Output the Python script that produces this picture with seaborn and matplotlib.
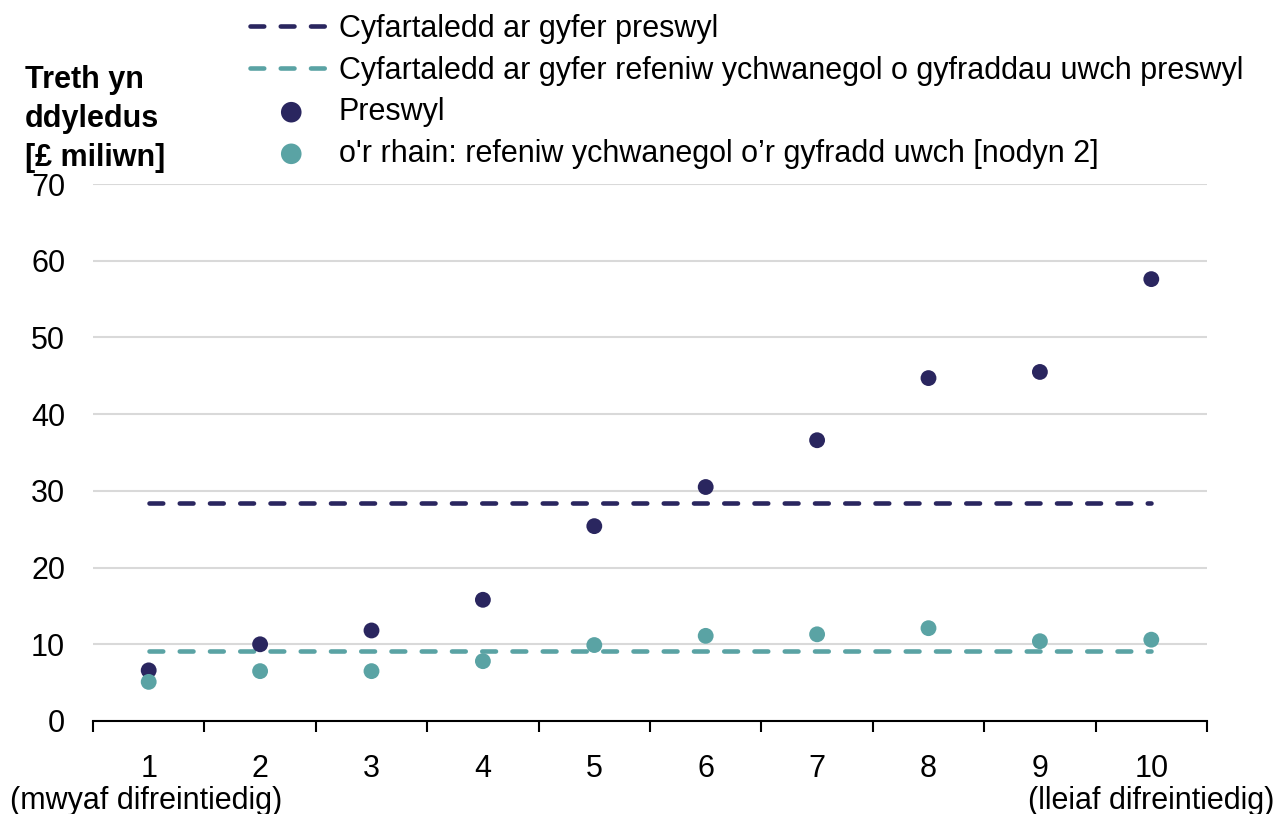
import seaborn as sns
import matplotlib.pyplot as plt
from matplotlib.ticker import FixedLocator

# Decile of deprivation (1 = most deprived, 10 = least deprived)
deciles = [1, 2, 3, 4, 5, 6, 7, 8, 9, 10]
tick_labels = ["1", "2", "3", "4", "5", "6", "7", "8", "9", "10"]
end_label_left = "(mwyaf difreintiedig)"
end_label_right = "(lleiaf difreintiedig)"

# Tax due, £ million
preswyl = [6.6, 10.0, 11.8, 15.8, 25.4, 30.5, 36.6, 44.7, 45.5, 57.6]
higher_rate = [5.1, 6.5, 6.5, 7.8, 9.9, 11.1, 11.3, 12.1, 10.4, 10.6]

avg_preswyl = 28.4
avg_higher = 9.1

label_avg_preswyl = "Cyfartaledd ar gyfer preswyl"
label_avg_higher = "Cyfartaledd ar gyfer refeniw ychwanegol o gyfraddau uwch preswyl"
label_preswyl = "Preswyl"
label_higher = "o'r rhain: refeniw ychwanegol o\u2019r gyfradd uwch [nodyn 2]"

navy = "#2a265f"
teal = "#5aa3a4"

sns.set_theme(style="white")
plt.rcParams['font.family'] = ['Liberation Sans', 'DejaVu Sans']
plt.rcParams['text.color'] = 'black'
fs = 22

fig = plt.figure(figsize=(12.8, 8.14), dpi=100)
ax = fig.add_axes([93 / 1280, 1 - 721 / 814, (1207 - 93) / 1280, (721 - 184) / 814])

dash = (0, (3.0, 3.6))
sns.lineplot(x=deciles, y=[avg_preswyl] * len(deciles), color=navy, lw=3.3,
             linestyle=dash, dash_capstyle='round', ax=ax, label=label_avg_preswyl, zorder=2)
sns.lineplot(x=deciles, y=[avg_higher] * len(deciles), color=teal, lw=3.3,
             linestyle=dash, dash_capstyle='round', ax=ax, label=label_avg_higher, zorder=2)
sns.scatterplot(x=deciles, y=preswyl, color=navy, s=130, edgecolor="none",
                ax=ax, label=label_preswyl, zorder=3)
sns.scatterplot(x=deciles, y=higher_rate, color=teal, s=130, edgecolor="none",
                ax=ax, label=label_higher, zorder=3)

ax.set_xlim(0.5, 10.5)
ax.set_ylim(0, 70)
ax.set_yticks(range(0, 71, 10))
ax.tick_params(axis='y', length=0, pad=20, labelsize=fs, labelcolor='black')
ax.yaxis.grid(True, color='#d9d9d9', lw=1.5)
ax.set_axisbelow(True)

# ticks between deciles, labels under each decile
ax.xaxis.set_major_locator(FixedLocator([x + 0.5 for x in [0] + deciles]))
ax.xaxis.set_minor_locator(FixedLocator(deciles))
ax.set_xticklabels([], minor=False)
ax.set_xticklabels(tick_labels, minor=True)
ax.tick_params(axis='x', which='major', direction='out', length=8, width=1.5,
               color='black', bottom=True)
ax.tick_params(axis='x', which='minor', length=0, pad=24, labelsize=fs, labelcolor='black')

ax.annotate(end_label_left, xy=(deciles[0], 0), xycoords=('data', 'axes fraction'),
            xytext=(-139, -80), textcoords='offset pixels', ha='left', va='center',
            fontsize=fs)
ax.annotate(end_label_right, xy=(deciles[-1], 0), xycoords=('data', 'axes fraction'),
            xytext=(123, -80), textcoords='offset pixels', ha='right', va='center',
            fontsize=fs)

for s in ['top', 'right', 'left']:
    ax.spines[s].set_visible(False)
ax.spines['bottom'].set_color('black')
ax.spines['bottom'].set_linewidth(1.5)
ax.set_xlabel("")
ax.set_ylabel("")

fig.text(25 / 1280, 1 - 65 / 814, "Treth yn\nddyledus\n[£ miliwn]", ha='left', va='top',
         fontsize=fs, fontweight='bold', linespacing=1.4)

handles, labels = ax.get_legend_handles_labels()
ax.legend_.remove()
fig.legend(handles, labels, loc='upper left', bbox_to_anchor=(250 / 1280, 1 - 14 / 814),
           frameon=False, fontsize=fs, handlelength=2.7, handletextpad=0.2,
           labelspacing=0.38, borderpad=0, borderaxespad=0, markerscale=1.3)

fig.savefig("out.png", dpi=100)
